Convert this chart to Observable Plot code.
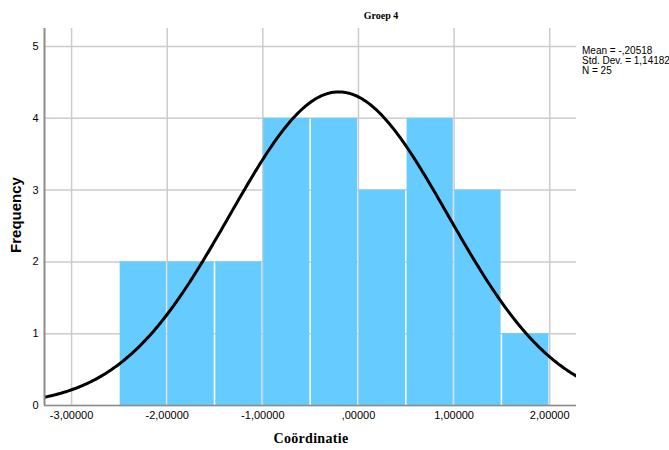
<!DOCTYPE html>
<html><head><meta charset="utf-8">
<script src="https://cdn.jsdelivr.net/npm/d3@7"></script>
<script src="https://cdn.jsdelivr.net/npm/@observablehq/plot@0.6"></script>
<style>
body{margin:0;background:#fff}
#wrap{position:relative;width:669px;height:450px;overflow:hidden}
.t{position:absolute;white-space:nowrap;color:#000}
</style></head><body><div id="wrap"></div>
<script>
// Data
const binStarts = [-2.5, -2, -1.5, -1, -0.5, 0, 0.5, 1, 1.5];
const binWidth = 0.5;
const counts = [2, 2, 2, 4, 4, 3, 4, 3, 1];
const xTicks = [-3, -2, -1, 0, 1, 2];
const yTicks = [0, 1, 2, 3, 4, 5];
const statMean = -0.20518;
const statSD = 1.14182;
const statN = 25;
const legendLines = ["Mean = -,20518", "Std. Dev. = 1,14182", "N = 25"];
const titleText = "Groep 4";
const xLabel = "Coördinatie";
const yLabel = "Frequency";

const xDomain = [-3.283, 2.28];
const yDomain = [0, 5.25];

const bars = binStarts.map((s, i) => ({x1: s, x2: s + binWidth, y: counts[i]}));

// Fitted normal curve defined by the stated mean, SD and N
const curveX = d3.range(0, 401).map(i => xDomain[0] + (xDomain[1] - xDomain[0]) * i / 400);
const curve = curveX.map(x => ({
  x,
  y: statN * binWidth / (statSD * Math.sqrt(2 * Math.PI)) * Math.exp(-0.5 * ((x - statMean) / statSD) ** 2)
}));

const fmt = v => {
  let s = d3.format(".5f")(Math.abs(v)).replace(".", ",");
  if (s.startsWith("0,")) s = s.slice(1);
  return (v < 0 ? "-" : "") + s;
};
const yFmt = d => String(d);

const chart = Plot.plot({
  width: 669,
  height: 450,
  marginLeft: 44,
  marginRight: 93,
  marginTop: 28,
  marginBottom: 45,
  style: {fontFamily: "'Liberation Sans', Arial, sans-serif", fontSize: "11px", background: "#fff", color: "#000"},
  x: {domain: xDomain, label: null},
  y: {domain: yDomain, label: null},
  marks: [
    Plot.gridX(xTicks, {stroke: "#cccccc", strokeOpacity: 1, strokeWidth: 1.5}),
    Plot.gridY(yTicks, {stroke: "#cccccc", strokeOpacity: 1, strokeWidth: 1.5}),
    Plot.rectY(bars, {x1: "x1", x2: "x2", y1: 0, y2: "y", fill: "#66ccff", insetLeft: 0.8, insetRight: 0.8}),
    Plot.line(curve, {x: "x", y: "y", stroke: "#000", strokeWidth: 3, clip: true}),
    Plot.ruleY([0], {stroke: "#8c8c8c", strokeWidth: 1.5}),
    Plot.ruleX([xDomain[0]], {stroke: "#8c8c8c", strokeWidth: 2}),
    Plot.axisX({ticks: xTicks, tickFormat: fmt, tickSize: 0, tickPadding: 6, label: null}),
    Plot.axisY({ticks: yTicks, tickFormat: yFmt, tickSize: 0, tickPadding: 6, label: null})
  ]
});

const wrap = document.getElementById("wrap");
wrap.appendChild(chart);

function addText(txt, css) {
  const d = document.createElement("div");
  d.className = "t";
  d.textContent = txt;
  Object.assign(d.style, css);
  wrap.appendChild(d);
  return d;
}
addText(titleText, {left: "381px", top: "10px", transform: "translateX(-50%)", font: "bold 10px 'Liberation Serif', 'Times New Roman', serif"});
addText(xLabel, {left: "311px", top: "431px", transform: "translateX(-50%)", font: "bold 14px 'Liberation Serif', 'Times New Roman', serif", letterSpacing: "0.3px"});
addText(yLabel, {left: "15px", top: "215px", transform: "translate(-50%,-50%) rotate(-90deg)", font: "bold 15px 'Liberation Sans', Arial, sans-serif"});
legendLines.forEach((l, i) => addText(l, {left: "582px", top: (46 + i * 10) + "px", font: "10px 'Liberation Sans', Arial, sans-serif", lineHeight: "10px"}));
</script></body></html>
